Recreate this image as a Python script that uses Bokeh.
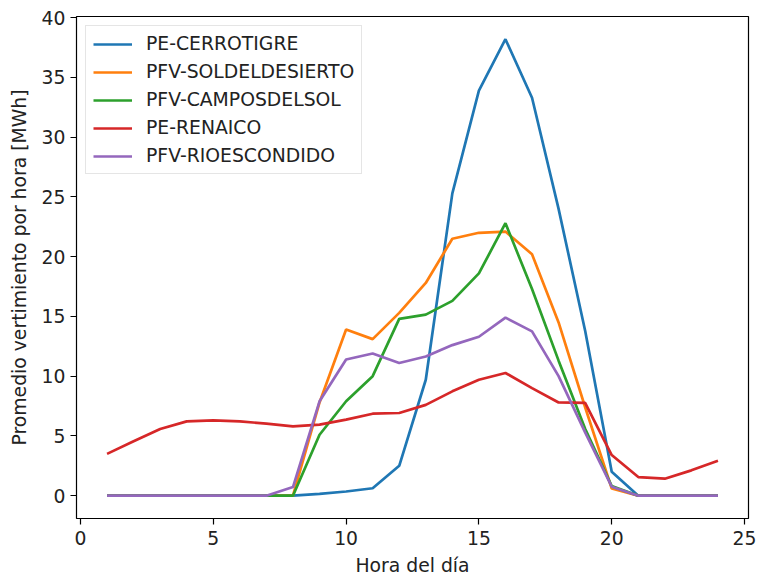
from bokeh.plotting import figure
from bokeh.models import Range1d, FixedTicker, Legend, LegendItem
from bokeh.embed import file_html
from bokeh.resources import INLINE

hours = list(range(1, 25))
cerrotigre = [0, 0, 0, 0, 0, 0, 0, 0.0, 0.15, 0.35, 0.62, 2.5, 9.7, 25.3, 33.9, 38.2, 33.3, 24.0, 13.8, 2.0, 0, 0, 0, 0]
soldeldesierto = [0, 0, 0, 0, 0, 0, 0, 0, 7.8, 13.9, 13.1, 15.3, 17.8, 21.5, 22.0, 22.1, 20.2, 14.5, 7.4, 0.6, 0, 0, 0, 0]
camposdelsol = [0, 0, 0, 0, 0, 0, 0, 0, 5.1, 7.9, 10.0, 14.8, 15.15, 16.3, 18.6, 22.8, 17.3, 11.3, 5.6, 0.8, 0, 0, 0, 0]
renaico = [3.5, 4.55, 5.58, 6.22, 6.3, 6.22, 6.03, 5.8, 5.94, 6.36, 6.86, 6.92, 7.6, 8.73, 9.7, 10.27, 9.0, 7.8, 7.76, 3.4, 1.56, 1.42, 2.12, 2.93]
rioescondido = [0, 0, 0, 0, 0, 0, 0, 0.72, 7.9, 11.4, 11.9, 11.1, 11.65, 12.6, 13.3, 14.9, 13.75, 10.0, 5.3, 0.75, 0, 0, 0, 0]

series_names = ["PE-CERROTIGRE", "PFV-SOLDELDESIERTO", "PFV-CAMPOSDELSOL", "PE-RENAICO", "PFV-RIOESCONDIDO"]
series_values = [cerrotigre, soldeldesierto, camposdelsol, renaico, rioescondido]
colors = ["#1f77b4", "#ff7f0e", "#2ca02c", "#d62728", "#9467bd"]
x_ticks = [0, 5, 10, 15, 20, 25]
y_ticks = [0, 5, 10, 15, 20, 25, 30, 35, 40]

FONT = "DejaVu Sans"
FS = "18.8px"

p = figure(width=756, height=581, output_backend="svg", toolbar_location=None,
           x_range=Range1d(-0.15, 25.15), y_range=Range1d(-1.91, 40.1),
           min_border_left=76, min_border_right=8, min_border_top=16, min_border_bottom=63)

items = []
for name, vals, c in zip(series_names, series_values, colors):
    r = p.line(hours, vals, line_color=c, line_width=2.7)
    items.append(LegendItem(label=name, renderers=[r]))

p.xgrid.visible = False
p.ygrid.visible = False
p.outline_line_color = "black"
p.outline_line_width = 1.2

for ax in (p.xaxis[0], p.yaxis[0]):
    ax.axis_line_color = None
    ax.major_tick_line_color = "black"
    ax.major_tick_line_width = 1.2
    ax.major_tick_out = 6
    ax.major_tick_in = 0
    ax.minor_tick_line_color = None
    ax.major_label_text_font = FONT
    ax.major_label_text_font_size = FS
    ax.major_label_text_color = "#222222"
    ax.axis_label_text_font = FONT
    ax.axis_label_text_font_size = FS
    ax.axis_label_text_font_style = "normal"
    ax.axis_label_text_color = "#222222"

p.xaxis[0].major_label_standoff = 6
p.yaxis[0].major_label_standoff = 5
p.xaxis[0].ticker = FixedTicker(ticks=x_ticks)
p.yaxis[0].ticker = FixedTicker(ticks=y_ticks)

p.xaxis[0].axis_label = "Hora del día"
p.xaxis[0].axis_label_standoff = 7
p.yaxis[0].axis_label = "Promedio vertimiento por hora [MWh]"
p.yaxis[0].axis_label_standoff = 9

legend = Legend(items=items, location="top_left", margin=9, padding=7, spacing=7,
                glyph_width=39, glyph_height=20, label_height=20, label_standoff=14,
                label_text_font=FONT, label_text_font_size=FS, label_text_color="#222222",
                border_line_color="#cccccc", border_line_width=1.2,
                background_fill_alpha=0.8)
p.add_layout(legend)

open("out.html", "w").write(file_html(p, INLINE))
